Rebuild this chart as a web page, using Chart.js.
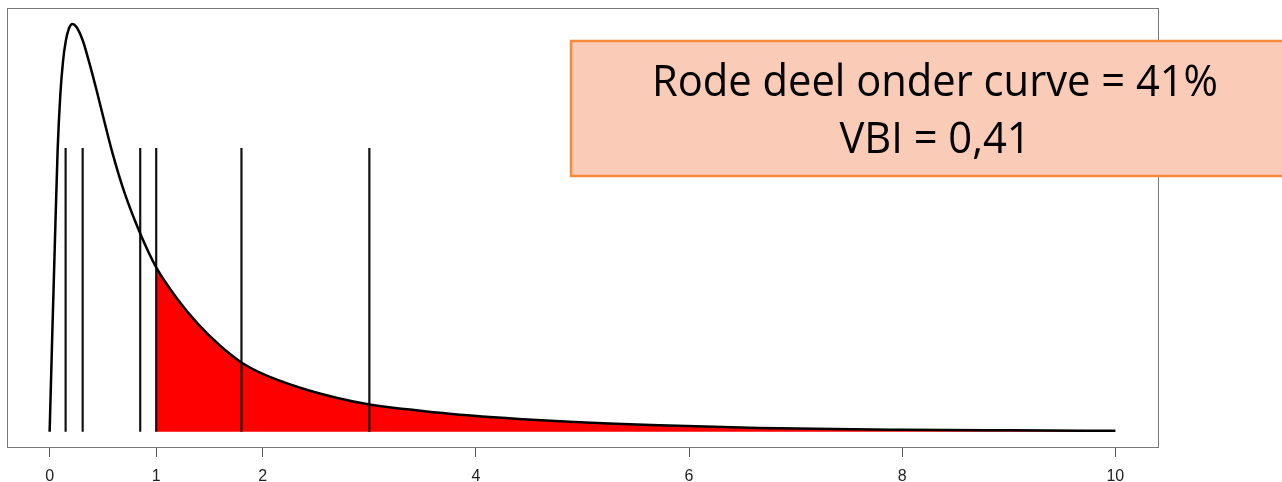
<!DOCTYPE html>
<html>
<head>
<meta charset="utf-8">
<script src="https://cdn.jsdelivr.net/npm/chart.js@4/dist/chart.umd.min.js"></script>
<style>
  html, body { margin: 0; padding: 0; background: #fff; }
  #wrap { width: 1282px; height: 482px; }
</style>
</head>
<body>
<div id="wrap"><canvas id="dens"></canvas></div>
<script>
// density curve (peak scaled to 100)
const curveX = [0, 0.025, 0.05, 0.075, 0.1, 0.125, 0.15, 0.18, 0.213, 0.25, 0.31, 0.37, 0.44, 0.52, 0.59, 0.7, 0.85, 1.0, 1.2, 1.4, 1.6, 1.8, 2.0, 2.35, 2.7, 3.0, 3.5, 3.85, 4.79, 5.72, 6.66, 8, 9, 10];
const curveY = [0, 24, 47, 69, 82.5, 90.7, 95.6, 98.8, 100, 99.3, 96, 90.7, 83.8, 75.4, 68.3, 58.8, 48.6, 40.3, 32.5, 26.2, 21.1, 17, 14.2, 10.8, 8.3, 6.7, 5.1, 4.2, 2.6, 1.6, 0.93, 0.5, 0.35, 0.25];
const redFrom = 1;
const lineX = [0.15, 0.31, 0.85, 1.0, 1.8, 3.0];
const lineTop = 69.6;
const tickValues = [0, 1, 2, 4, 6, 8, 10];
const noteLines = ["Rode deel onder curve = 41%", "VBI = 0,41"];

const curvePts = curveX.map((x, i) => ({ x: x, y: curveY[i] }));
const redPts = curvePts.filter(p => p.x >= redFrom);
const linePts = lineX.flatMap(x => [{ x: x, y: 0 }, { x: x, y: lineTop }, { x: x, y: null }]);

const frame = {
  id: "frame",
  afterDraw(chart) {
    const { ctx, chartArea: a } = chart;
    ctx.save();
    ctx.strokeStyle = "#777";
    ctx.lineWidth = 1;
    ctx.strokeRect(Math.round(a.left) + 0.5, Math.round(a.top) + 0.5, Math.round(a.right - a.left), Math.round(a.bottom - a.top));

    // text box
    ctx.fillStyle = "#FACBB7";
    ctx.fillRect(571, 41, 720, 135);
    ctx.strokeStyle = "#F58A3A";
    ctx.lineWidth = 2.5;
    ctx.strokeRect(571, 41, 720, 135);

    ctx.fillStyle = "#000";
    ctx.font = "43px 'Open Sans'";
    ctx.textAlign = "center";
    ctx.textBaseline = "alphabetic";
    const k = 566 / ctx.measureText(noteLines[0]).width;
    const cx = 935;
    [96, 153].forEach((y, i) => {
      ctx.save();
      ctx.translate(cx, y);
      ctx.scale(k, 1);
      ctx.fillText(noteLines[i], 0, 0);
      ctx.restore();
    });
    ctx.restore();
  }
};

new Chart(document.getElementById("dens"), {
  type: "line",
  data: {
    datasets: [
      { data: curvePts, borderColor: "#000", borderWidth: 2.5, pointRadius: 0, cubicInterpolationMode: "monotone", fill: false },
      { data: linePts, borderColor: "#111", borderWidth: 2.2, pointRadius: 0, tension: 0, spanGaps: false, fill: false },
      { data: redPts, borderWidth: 0, borderColor: "rgba(0,0,0,0)", backgroundColor: "#FF0000", pointRadius: 0, cubicInterpolationMode: "monotone", fill: "origin" }
    ]
  },
  options: {
    responsive: true,
    maintainAspectRatio: false,
    animation: false,
    layout: { padding: { left: 7, right: 124, top: 8, bottom: 0 } },
    plugins: { legend: { display: false }, tooltip: { enabled: false } },
    scales: {
      x: {
        type: "linear",
        min: -0.4,
        max: 10.4,
        afterBuildTicks: axis => { axis.ticks = tickValues.map(v => ({ value: v })); },
        afterFit: axis => { axis.height = 35; },
        grid: { drawOnChartArea: false, color: "#555", tickLength: 10 },
        border: { display: false },
        ticks: { color: "#222", font: { family: "'Liberation Sans', Arial", size: 16, lineHeight: 1 }, padding: 11.5, maxRotation: 0, autoSkip: false }
      },
      y: {
        display: false,
        min: -3.73,
        max: 103.9
      }
    }
  },
  plugins: [frame]
});
</script>
</body>
</html>
